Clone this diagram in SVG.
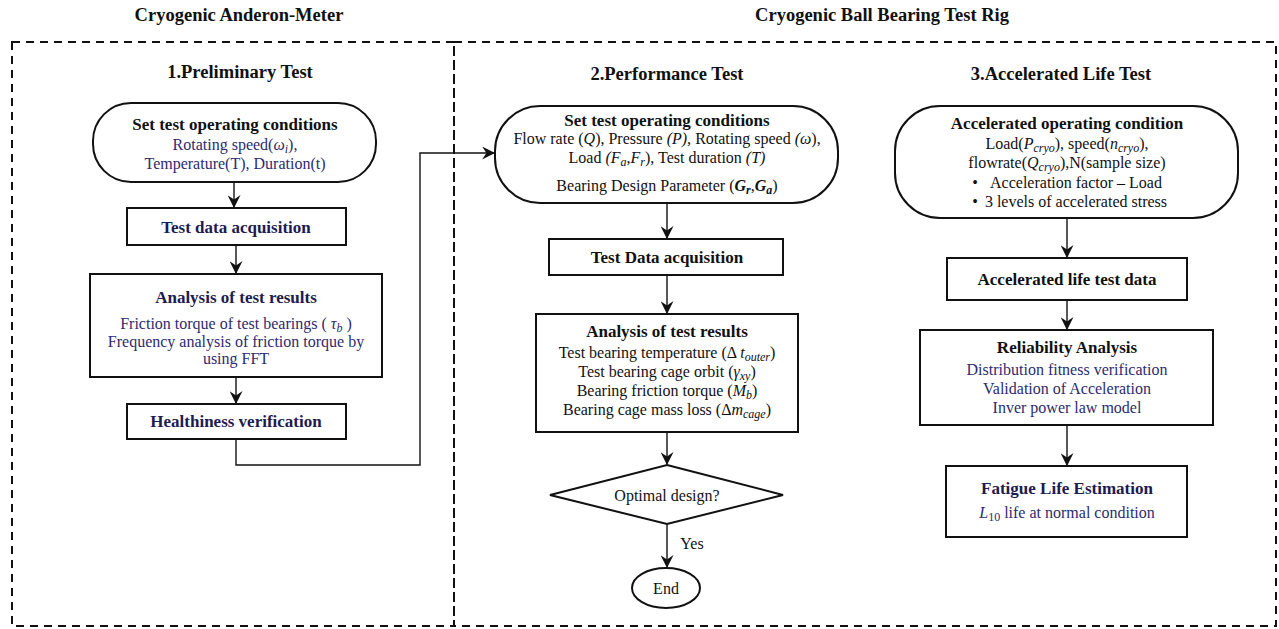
<svg xmlns="http://www.w3.org/2000/svg" width="1279" height="629" viewBox="0 0 1279 629">
<style>
text{font-family:"Liberation Serif","Times New Roman",serif;text-anchor:middle;fill:#111}
.h{font-size:18.5px;font-weight:bold}
.t{font-size:17px;font-weight:bold}
.tn{font-size:17px;font-weight:bold;fill:#1e1b4f}
.b{font-size:16px}
.bn{font-size:16px;fill:#2d2b6e}
.i{font-style:italic}
.s{font-size:12px;font-style:italic}
.node{fill:#fff;stroke:#111;stroke-width:2}
.dash{fill:none;stroke:#111;stroke-width:2;stroke-dasharray:8 6}
.conn{fill:none;stroke:#111;stroke-width:1.4}
</style>
<defs>
<marker id="arr" viewBox="0 0 12 12" refX="11" refY="6" markerWidth="13" markerHeight="13" markerUnits="userSpaceOnUse" orient="auto">
<path d="M0,0 L12,6 L0,12 L4,6 z" fill="#111"/>
</marker>
</defs>

<g id="frames">
<rect class="dash" x="12" y="42" width="442" height="584"/>
<rect class="dash" x="454" y="42" width="822" height="584"/>
<text class="h" x="239" y="21">Cryogenic Anderon-Meter</text>
<text class="h" x="882" y="21">Cryogenic Ball Bearing Test Rig</text>
<text class="h" x="240" y="78">1.Preliminary Test</text>
<text class="h" x="667" y="80">2.Performance Test</text>
<text class="h" x="1061" y="80">3.Accelerated Life Test</text>
</g>

<g id="connectors">
<path class="conn" d="M234,182 V207" marker-end="url(#arr)"/>
<path class="conn" d="M236,245 V273" marker-end="url(#arr)"/>
<path class="conn" d="M236,377 V403" marker-end="url(#arr)"/>
<path class="conn" d="M236,439 V465 H420 V153 H494" marker-end="url(#arr)"/>
<path class="conn" d="M667,203 V238" marker-end="url(#arr)"/>
<path class="conn" d="M667,275 V313" marker-end="url(#arr)"/>
<path class="conn" d="M667,432 V464" marker-end="url(#arr)"/>
<path class="conn" d="M667,524 V567" marker-end="url(#arr)"/>
<text class="b" x="692" y="549">Yes</text>
<path class="conn" d="M1067,218 V257" marker-end="url(#arr)"/>
<path class="conn" d="M1067,300 V329" marker-end="url(#arr)"/>
<path class="conn" d="M1067,425 V465" marker-end="url(#arr)"/>
</g>

<g id="n1-start">
<rect class="node" x="93" y="103" width="283" height="79" rx="38" ry="38"/>
<text class="t" x="235" y="130">Set test operating conditions</text>
<text class="bn" x="235" y="150">Rotating speed(<tspan class="i">ω</tspan><tspan class="s" dy="3">i</tspan><tspan dy="-3">),</tspan></text>
<text class="bn" x="235" y="169">Temperature(T),  Duration(t)</text>
</g>

<g id="n1-acq">
<rect class="node" x="127" y="208" width="219" height="37"/>
<text class="tn" x="236" y="233">Test data acquisition</text>
</g>

<g id="n1-analysis">
<rect class="node" x="90" y="274" width="292" height="103"/>
<text class="tn" x="236" y="303">Analysis  of test results</text>
<text class="bn" x="236" y="329">Friction torque of test bearings ( <tspan class="i">τ</tspan><tspan class="s" dy="3">b</tspan><tspan dy="-3"> )</tspan></text>
<text class="bn" x="236" y="347">Frequency  analysis  of friction torque by</text>
<text class="bn" x="236" y="364">using FFT</text>
</g>

<g id="n1-health">
<rect class="node" x="127" y="404" width="219" height="35"/>
<text class="tn" x="236" y="427">Healthiness verification</text>
</g>

<g id="n2-start">
<rect class="node" x="495" y="106" width="343" height="97" rx="45" ry="45"/>
<text class="t" x="667" y="126">Set test operating conditions</text>
<text class="b" x="667" y="144">Flow rate (<tspan class="i">Q</tspan>), Pressure <tspan class="i">(P),</tspan> Rotating speed <tspan class="i">(ω</tspan>),</text>
<text class="b" x="667" y="163">Load <tspan class="i">(F</tspan><tspan class="s" dy="3">a</tspan><tspan dy="-3">,</tspan><tspan class="i">F</tspan><tspan class="s" dy="3">r</tspan><tspan dy="-3">), Test duration </tspan><tspan class="i">(T)</tspan></text>
<text class="b" x="667" y="191">Bearing Design Parameter (<tspan font-weight="bold" class="i">G</tspan><tspan class="s" font-weight="bold" dy="3">r</tspan><tspan dy="-3">,</tspan><tspan font-weight="bold" class="i">G</tspan><tspan class="s" font-weight="bold" dy="3">a</tspan><tspan dy="-3">)</tspan></text>
</g>

<g id="n2-acq">
<rect class="node" x="549" y="239" width="234" height="36"/>
<text class="t" x="667" y="263">Test Data acquisition</text>
</g>

<g id="n2-analysis">
<rect class="node" x="536" y="314" width="262" height="118"/>
<text class="t" x="667" y="337">Analysis  of test results</text>
<text class="b" x="667" y="358">Test bearing temperature (Δ <tspan class="i">t</tspan><tspan class="s" dy="3">outer</tspan><tspan dy="-3">)</tspan></text>
<text class="b" x="667" y="377">Test bearing cage orbit (<tspan class="i">γ</tspan><tspan class="s" dy="3">xy</tspan><tspan dy="-3">)</tspan></text>
<text class="b" x="667" y="396">Bearing friction torque (<tspan class="i">M</tspan><tspan class="s" dy="3">b</tspan><tspan dy="-3">)</tspan></text>
<text class="b" x="667" y="415">Bearing cage mass loss (Δ<tspan class="i">m</tspan><tspan class="s" dy="3">cage</tspan><tspan dy="-3">)</tspan></text>
</g>

<g id="n2-decision">
<polygon class="node" stroke-width="1.5" points="667,465 783,495 667,524 550,495"/>
<text class="b" x="667" y="501">Optimal design?</text>
</g>

<g id="n2-end">
<ellipse class="node" stroke-width="1.5" cx="666" cy="588" rx="34" ry="20"/>
<text class="b" x="666" y="594">End</text>
</g>

<g id="n3-start">
<rect class="node" x="895" y="106" width="343" height="112" rx="45" ry="45"/>
<text class="t" x="1067" y="129">Accelerated operating condition</text>
<text class="b" x="1067" y="149">Load(<tspan class="i">P</tspan><tspan class="s" dy="3">cryo</tspan><tspan dy="-3">), speed(</tspan><tspan class="i">n</tspan><tspan class="s" dy="3">cryo</tspan><tspan dy="-3">),</tspan></text>
<text class="b" x="1067" y="168">flowrate(<tspan class="i">Q</tspan><tspan class="s" dy="3">cryo</tspan><tspan dy="-3">),N(sample size)</tspan></text>
<text class="b" x="975" y="188">•</text>
<text class="b" x="1076" y="188">Acceleration factor – Load</text>
<text class="b" x="975" y="207">•</text>
<text class="b" x="1076" y="207">3 levels of accelerated stress</text>
</g>

<g id="n3-data">
<rect class="node" x="947" y="258" width="240" height="42"/>
<text class="t" x="1067" y="285">Accelerated life test data</text>
</g>

<g id="n3-reliability">
<rect class="node" x="920" y="330" width="293" height="95"/>
<text class="t" x="1067" y="353">Reliability  Analysis</text>
<text class="bn" x="1067" y="375">Distribution fitness verification</text>
<text class="bn" x="1067" y="394">Validation of Acceleration</text>
<text class="bn" x="1067" y="413">Inver power law model</text>
</g>

<g id="n3-fatigue">
<rect class="node" x="946" y="466" width="241" height="71"/>
<text class="tn" x="1067" y="494">Fatigue Life Estimation</text>
<text class="bn" x="1067" y="518"><tspan class="i">L</tspan><tspan font-size="12" dy="3">10</tspan><tspan dy="-3"> life at normal condition</tspan></text>
</g>
</svg>
